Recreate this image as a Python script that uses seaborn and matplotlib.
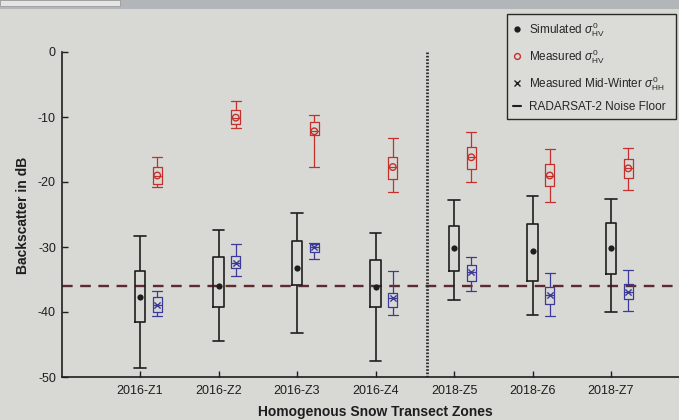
import numpy as np
import pandas as pd
import matplotlib
matplotlib.use("Agg")
import matplotlib.pyplot as plt
from matplotlib.lines import Line2D
from matplotlib.markers import MarkerStyle
from matplotlib.patches import Rectangle
import seaborn as sns

# ---------------- data (dB) ----------------
zones = ["2016-Z1", "2016-Z2", "2016-Z3", "2016-Z4", "2018-Z5", "2018-Z6", "2018-Z7"]
zone_pos = [1, 2, 3, 4, 5, 6, 7]

# Simulated sigma0 HV (black boxes)
sim_lo  = [-48.6, -44.4, -43.2, -47.6, -38.1, -40.4, -40.0]
sim_q1  = [-41.5, -39.2, -35.9, -39.3, -33.7, -35.3, -34.2]
sim_med = [-37.7, -36.0, -33.3, -36.1, -30.1, -30.6, -30.2]
sim_q3  = [-33.7, -31.5, -29.1, -32.0, -26.7, -26.4, -26.3]
sim_hi  = [-28.3, -27.4, -24.8, -27.8, -22.7, -22.1, -22.6]

# Measured sigma0 HV (red boxes)
hv_lo  = [-20.8, -11.7, -17.7, -21.6, -20.0, -23.1, -21.2]
hv_q1  = [-20.3, -11.1, -12.8, -19.5, -18.0, -20.6, -19.4]
hv_med = [-19.0, -10.1, -12.2, -17.7, -16.2, -19.0, -17.9]
hv_q3  = [-17.7,  -8.9, -10.7, -16.2, -14.6, -17.3, -16.4]
hv_hi  = [-16.1,  -7.5,  -9.7, -13.3, -12.3, -14.9, -14.7]

# Measured mid-winter sigma0 HH (blue boxes)
hh_lo  = [-40.6, -34.4, -31.8, -40.4, -36.7, -40.6, -39.9]
hh_q1  = [-40.0, -33.2, -30.7, -39.3, -35.2, -38.7, -38.0]
hh_med = [-38.9, -32.4, -30.0, -37.8, -33.9, -37.4, -36.9]
hh_q3  = [-37.7, -31.4, -29.6, -37.0, -32.8, -36.2, -35.7]
hh_hi  = [-36.8, -29.6, -29.4, -33.7, -31.6, -34.0, -33.5]

noise_floor_db = -36.0
season_split = 4.65
measured_offset = 0.22

# ---------------- style ----------------
sns.set_style("ticks")
plt.rcParams["font.family"] = ["Liberation Sans", "DejaVu Sans"]
plt.rcParams["axes.unicode_minus"] = False
plt.rcParams["mathtext.fontset"] = "custom"
plt.rcParams["mathtext.rm"] = "Liberation Sans"
plt.rcParams["mathtext.it"] = "Liberation Sans:italic"
plt.rcParams["mathtext.bf"] = "Liberation Sans:bold"

BG = "#d8d8d4"
RED = "#c4312d"
BLUE = "#3b3a98"
INK = "#1e1e1e"

fig = plt.figure(figsize=(6.79, 4.2), dpi=100, facecolor=BG)
ax = fig.add_axes([61.5 / 679, 43 / 420, 628 / 679, 325 / 420])
ax.set_facecolor(BG)

# top UI strip of the photographed screen
fig.add_artist(Rectangle((0, 1 - 9 / 420), 1, 9 / 420, transform=fig.transFigure,
                         facecolor="#b3b6b9", edgecolor="none"))
fig.add_artist(Rectangle((0, 1 - 6 / 420), 120 / 679, 6 / 420, transform=fig.transFigure,
                         facecolor="#e4e4e2", edgecolor="#9a9a9a", linewidth=0.6))


def long_table(pos, lo, q1, med, q3, hi, offset):
    rows = []
    for p, a, b, c, d, e in zip(pos, lo, q1, med, q3, hi):
        for v in (a, b, c, d, e):
            rows.append({"pos": p + offset, "value": v})
    return pd.DataFrame(rows)


df_sim = long_table(zone_pos, sim_lo, sim_q1, sim_med, sim_q3, sim_hi, 0.0)
df_hv = long_table(zone_pos, hv_lo, hv_q1, hv_med, hv_q3, hv_hi, measured_offset)
df_hh = long_table(zone_pos, hh_lo, hh_q1, hh_med, hh_q3, hh_hi, measured_offset)

# noise floor & season separator
ax.axhline(noise_floor_db, color="#5b2b31", linestyle=(0, (4.5, 3.2)), linewidth=1.7, zorder=1)
ax.axvline(season_split, color="#2a2a2a", linestyle=(0, (0.6, 0.6)), linewidth=2.0, zorder=1)

common = dict(native_scale=True, fill=False, whis=(0, 100), fliersize=0, ax=ax)
sns.boxplot(data=df_sim, x="pos", y="value", color=INK, linecolor=INK, width=0.14,
            linewidth=1.2, medianprops={"visible": False}, capwidths=0.15, **common)
sns.boxplot(data=df_hv, x="pos", y="value", color=RED, linecolor=RED, width=0.115,
            linewidth=0.9, capwidths=0.13, **common)
sns.boxplot(data=df_hh, x="pos", y="value", color=BLUE, linecolor=BLUE, width=0.115,
            linewidth=0.9, capwidths=0.13, **common)

# median markers
sns.scatterplot(x=np.array(zone_pos, dtype=float), y=sim_med, marker="o", color=INK,
                s=20, linewidth=0, ax=ax, zorder=5)
sns.scatterplot(x=np.array(zone_pos) + measured_offset, y=hv_med,
                marker=MarkerStyle("o", fillstyle="none"), color=RED, s=22,
                linewidth=1.0, ax=ax, zorder=5)
sns.scatterplot(x=np.array(zone_pos) + measured_offset, y=hh_med, marker="x", color=BLUE,
                s=20, linewidth=1.0, ax=ax, zorder=5)

# axes
ax.set_xlim(0, 8)
ax.set_ylim(-50, 0)
ax.set_xticks(zone_pos)
ax.set_xticklabels(zones)
ax.set_yticks([-50, -40, -30, -20, -10, 0])
ax.set_yticklabels(["-50", "-40", "-30", "-20", "-10", "0"])
ax.tick_params(axis="both", direction="in", length=4, width=1.0, labelsize=9,
               colors=INK)
ax.tick_params(axis="x", pad=5.5)
ax.tick_params(axis="y", pad=4)
for s in ("top", "right"):
    ax.spines[s].set_visible(False)
for s in ("left", "bottom"):
    ax.spines[s].set_color(INK)
    ax.spines[s].set_linewidth(1.2)

ax.set_xlabel("Homogenous Snow Transect Zones", fontsize=10, fontweight="bold", color=INK)
ax.set_ylabel("Backscatter in dB", fontsize=10, fontweight="bold", color=INK)
ax.xaxis.set_label_coords(0.5, -0.086)
ax.yaxis.set_label_coords(-0.050, 0.498)

handles = [
    Line2D([], [], marker="o", color=INK, linestyle="none", markersize=3.5),
    Line2D([], [], marker="o", mfc="none", mec=RED, linestyle="none", markersize=4.2,
           markeredgewidth=1.0),
    Line2D([], [], marker="x", color=INK, linestyle="none", markersize=4.2,
           markeredgewidth=1.0),
    Line2D([], [], color=INK, linestyle="-", linewidth=1.5),
]
labels = [
    r"Simulated $\sigma^0_{\mathrm{HV}}$",
    r"Measured $\sigma^0_{\mathrm{HV}}$",
    r"Measured Mid-Winter $\sigma^0_{\mathrm{HH}}$",
    "RADARSAT-2 Noise Floor",
]
leg = fig.legend(handles, labels, loc="upper left",
                 bbox_to_anchor=(507 / 679, 1 - 122 / 420, 169 / 679, 108 / 420),
                 bbox_transform=fig.transFigure, mode="expand", fontsize=8.5,
                 frameon=True, fancybox=False, edgecolor="#2a2a2a", facecolor="#dbdbd7",
                 framealpha=1, borderpad=0.5, labelspacing=0.7, handlelength=0.7,
                 handletextpad=0.7, borderaxespad=0)
leg.get_frame().set_linewidth(1.0)

fig.savefig("out.png", dpi=100, facecolor=BG)
